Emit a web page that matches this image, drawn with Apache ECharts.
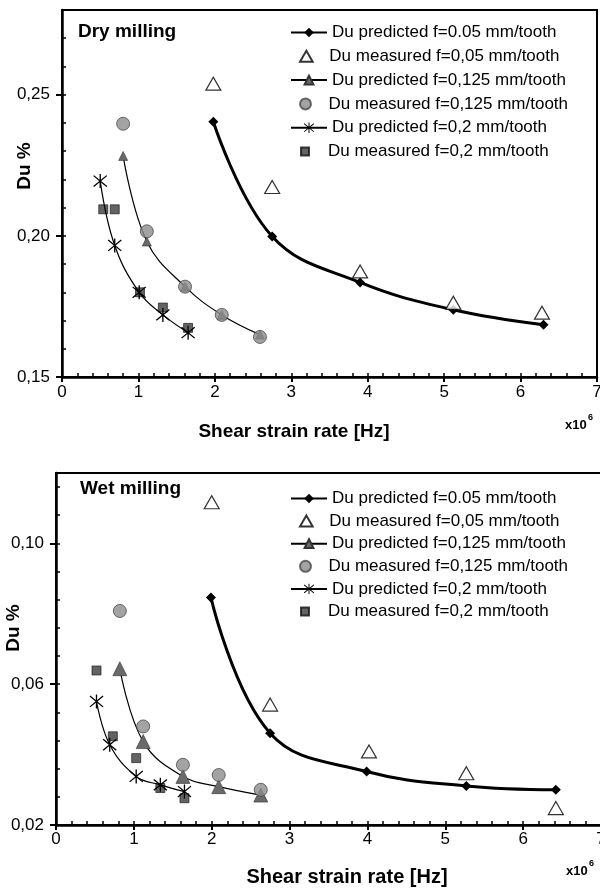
<!DOCTYPE html>
<html><head><meta charset="utf-8">
<script src="https://cdn.jsdelivr.net/npm/echarts@6/dist/echarts.min.js"></script>
<style>html,body{margin:0;padding:0;background:#fff}#c{width:600px;height:889px}</style>
</head><body><div id="c"></div>
<script>
// ---------- labels ----------
const legendLabelsDry = ['Du predicted f=0.05 mm/tooth','Du measured f=0,05 mm/tooth','Du predicted f=0,125 mm/tooth','Du measured f=0,125 mm/tooth','Du predicted f=0,2 mm/tooth','Du measured f=0,2 mm/tooth'];
const legendLabelsWet = ['Du predicted f=0.05 mm/tooth','Du measured f=0,05 mm/tooth','Du predicted f=0,125 mm/tooth','Du measured f=0,125 mm/tooth','Du predicted f=0,2 mm/tooth','Du measured f=0,2 mm/tooth'];
const panelTitles = ['Dry milling','Wet milling'];
const xAxisTitle = 'Shear strain rate [Hz]';
const yAxisTitle = 'Du %';

// ---------- ticks ----------
const xTickLabels = [0,1,2,3,4,5,6,7];
const dryYTickLabels = [0.15,0.20,0.25];
const wetYTickLabels = [0.02,0.06,0.10];

// ---------- Dry milling data (x in 10^6 Hz) ----------
const dryPred005X = [1.98,2.75,3.90,5.12,6.30];
const dryPred005Y = [0.2404,0.1998,0.1835,0.1738,0.1685];
const dryMeas005X = [1.98,2.75,3.90,5.12,6.28];
const dryMeas005Y = [0.2539,0.2173,0.1874,0.1763,0.1728];
const dryPred0125X = [0.80,1.11,1.61,2.09,2.59];
const dryPred0125Y = [0.2283,0.1980,0.1820,0.1720,0.1650];
const dryMeas0125X = [0.80,1.11,1.61,2.09,2.59];
const dryMeas0125Y = [0.2397,0.2016,0.1820,0.1720,0.1642];
const dryPred02X = [0.50,0.69,1.01,1.32,1.65];
const dryPred02Y = [0.2194,0.1966,0.1800,0.1720,0.1657];
const dryMeas02X = [0.54,0.69,1.02,1.32,1.65];
const dryMeas02Y = [0.2094,0.2094,0.1800,0.1746,0.1674];

// ---------- Wet milling data ----------
const wetPred005X = [1.99,2.75,3.99,5.27,6.42];
const wetPred005Y = [0.0846,0.0461,0.0352,0.0311,0.0300];
const wetMeas005X = [2.00,2.75,4.02,5.27,6.42];
const wetMeas005Y = [0.1117,0.0542,0.0409,0.0347,0.0248];
const wetPred0125X = [0.82,1.12,1.63,2.09,2.63];
const wetPred0125Y = [0.0644,0.0437,0.0338,0.0309,0.0285];
const wetMeas0125X = [0.82,1.12,1.63,2.09,2.63];
const wetMeas0125Y = [0.0808,0.0480,0.0371,0.0342,0.0300];
const wetPred02X = [0.52,0.69,1.03,1.34,1.65];
const wetPred02Y = [0.0551,0.0428,0.0338,0.0314,0.0295];
const wetMeas02X = [0.52,0.73,1.03,1.34,1.65];
const wetMeas02Y = [0.0639,0.0452,0.0390,0.0305,0.0276];

// ---------- helpers ----------
const FONT = 'Liberation Sans, Arial, Helvetica, sans-serif';
const zip = (xs, ys) => xs.map((x, i) => [x, ys[i]]);
function steps(a, b, n) { const out = []; for (let i = 0; i <= n; i++) out.push(+(a + (b - a) * i / n).toFixed(6)); return out; }
const xMinorTicks = steps(0, 7, 35);
const dryYMinorTicks = steps(0.15, 0.28, 13);
const wetYMinorTicks = steps(0.02, 0.116, 12);
const commaFmt = v => v.toFixed(2).replace('.', ',');

const ASTER = 'path://M2.527,2.398 L1.473,3.602 L17.473,17.602 L18.527,16.398 Z M1.473,16.398 L2.527,17.602 L18.527,3.602 L17.473,2.398 Z M9.2,1 L9.2,19 L10.8,19 L10.8,1 Z';
const TRI = 'path://M6,0 L12,10.4 L0,10.4 Z';
const SQR = 'path://M0,0 L10,0 L10,10 L0,10 Z';

const grids = [
  { left: 62, top: 10, width: 535, height: 367, show: true, borderColor: '#000', borderWidth: 2, backgroundColor: 'transparent', outerBoundsMode: 'none', containLabel: false },
  { left: 56, top: 473, width: 545, height: 352, show: true, borderColor: '#000', borderWidth: 2, backgroundColor: 'transparent', outerBoundsMode: 'none', containLabel: false }
];

function xAxes(gi, labelMargin) {
  return [
    { gridIndex: gi, type: 'value', min: 0, max: 7, position: 'bottom',
      axisLine: { lineStyle: { color: '#000', width: 2.5 } },
      axisTick: { customValues: xMinorTicks, inside: true, length: 4, lineStyle: { color: '#000', width: 1.5 } },
      axisLabel: { customValues: xTickLabels, color: '#000', fontSize: 17, fontFamily: FONT, margin: labelMargin, hideOverlap: false },
      splitLine: { show: false } },
    { gridIndex: gi, type: 'value', min: 0, max: 7, position: 'bottom',
      axisLine: { show: false },
      axisTick: { customValues: xTickLabels, inside: false, length: 5, lineStyle: { color: '#000', width: 2 } },
      axisLabel: { show: false }, splitLine: { show: false } }
  ];
}
function yAxes(gi, min, max, minor, labels) {
  return [
    { gridIndex: gi, type: 'value', min: min, max: max, position: 'left',
      axisLine: { lineStyle: { color: '#000', width: 2.5 } },
      axisTick: { customValues: minor, inside: true, length: 4, lineStyle: { color: '#000', width: 1.5 } },
      axisLabel: { customValues: labels, formatter: commaFmt, color: '#000', fontSize: 17, fontFamily: FONT, margin: 12 },
      splitLine: { show: false } },
    { gridIndex: gi, type: 'value', min: min, max: max, position: 'left',
      axisLine: { show: false },
      axisTick: { customValues: labels, inside: false, length: 6, lineStyle: { color: '#000', width: 2 } },
      axisLabel: { show: false }, splitLine: { show: false } }
  ];
}

function makeSeries(prefix, gi, d, big) {
  const xi = gi * 2, yi = gi * 2;
  return [
    { name: prefix + '0', type: 'line', xAxisIndex: xi, yAxisIndex: yi, data: d[0], smooth: 0.4,
      symbol: 'diamond', symbolSize: 10, lineStyle: { color: '#000', width: 3 }, itemStyle: { color: '#000' }, z: 3 },
    { name: prefix + '1', type: 'scatter', xAxisIndex: xi, yAxisIndex: yi, data: d[1],
      symbol: 'triangle', symbolSize: [15, 13], itemStyle: { color: '#fff', borderColor: '#000', borderWidth: 1.2 }, z: 4 },
    { name: prefix + '2', type: 'line', xAxisIndex: xi, yAxisIndex: yi, data: d[2], smooth: 0.4,
      symbol: 'triangle', symbolSize: big ? 14 : 9, lineStyle: { color: '#000', width: 1.2 }, itemStyle: { color: '#6a6a6a', borderColor: '#333', borderWidth: 0.6 }, z: 3 },
    { name: prefix + '3', type: 'scatter', xAxisIndex: xi, yAxisIndex: yi, data: d[3],
      symbol: 'circle', symbolSize: 13, itemStyle: { color: '#8c8c8c', borderColor: '#4a4a4a', borderWidth: 1 }, z: 4 },
    { name: prefix + '4', type: 'line', xAxisIndex: xi, yAxisIndex: yi, data: d[4], smooth: 0.4,
      symbol: ASTER, symbolSize: 14, lineStyle: { color: '#000', width: 1.2 }, itemStyle: { color: '#000' }, z: 5 },
    { name: prefix + '5', type: 'scatter', xAxisIndex: xi, yAxisIndex: yi, data: d[5],
      symbol: 'rect', symbolSize: 9, itemStyle: { color: '#3c3c3c', borderColor: '#111', borderWidth: 0.8 }, z: 4 }
  ];
}

function makeLegends(prefix, labels, top0, step) {
  const cfg = [
    { iw: 36, ih: 12, left: 290 },
    { iw: 36, ih: 11, left: 299, icon: TRI },
    { iw: 36, ih: 11, left: 290 },
    { iw: 36, ih: 11, left: 299, icon: 'circle' },
    { iw: 36, ih: 13, left: 290 },
    { iw: 36, ih: 8, left: 300, icon: SQR }
  ];
  return cfg.map((c, i) => ({
    show: true, selectedMode: false, orient: 'vertical', left: c.left, top: top0 + step * i, padding: 0,
    itemWidth: c.iw, itemHeight: c.ih,
    data: [c.icon ? { name: prefix + i, icon: c.icon } : { name: prefix + i }],
    formatter: () => labels[i],
    textStyle: { color: '#000', fontSize: 17, fontFamily: FONT, padding: [0, 0, 0, 0] }
  }));
}

const dryData = [zip(dryPred005X, dryPred005Y), zip(dryMeas005X, dryMeas005Y), zip(dryPred0125X, dryPred0125Y), zip(dryMeas0125X, dryMeas0125Y), zip(dryPred02X, dryPred02Y), zip(dryMeas02X, dryMeas02Y)];
const wetData = [zip(wetPred005X, wetPred005Y), zip(wetMeas005X, wetMeas005Y), zip(wetPred0125X, wetPred0125Y), zip(wetMeas0125X, wetMeas0125Y), zip(wetPred02X, wetPred02Y), zip(wetMeas02X, wetMeas02Y)];

const titleFont = 'bold 19px ' + FONT;
const chart = echarts.init(document.getElementById('c'), null, { renderer: 'canvas' });
chart.setOption({
  animation: false,
  backgroundColor: '#fff',
  grid: grids,
  xAxis: [...xAxes(0, 7), ...xAxes(1, 6)],
  yAxis: [...yAxes(0, 0.15, 0.28, dryYMinorTicks, dryYTickLabels), ...yAxes(1, 0.02, 0.12, wetYMinorTicks, wetYTickLabels)],
  legend: [...makeLegends('dry', legendLabelsDry, 24, 23.8), ...makeLegends('wet', legendLabelsWet, 490, 22.6)],
  series: [...makeSeries('dry', 0, dryData, false), ...makeSeries('wet', 1, wetData, true)],
  graphic: [
    { type: 'text', left: 78, top: 22, style: { text: panelTitles[0], font: titleFont, fill: '#000' } },
    { type: 'text', left: 80, top: 479, style: { text: panelTitles[1], font: titleFont, fill: '#000' } },
    { type: 'text', x: 25, y: 166, rotation: Math.PI / 2, style: { text: yAxisTitle, font: titleFont, fill: '#000', align: 'center', verticalAlign: 'middle' } },
    { type: 'text', x: 14, y: 628, rotation: Math.PI / 2, style: { text: yAxisTitle, font: titleFont, fill: '#000', align: 'center', verticalAlign: 'middle' } },
    { type: 'text', x: 294, y: 432, style: { text: xAxisTitle, font: titleFont, fill: '#000', align: 'center', verticalAlign: 'middle' } },
    { type: 'text', x: 347, y: 877, style: { text: xAxisTitle, font: 'bold 20px ' + FONT, fill: '#000', align: 'center', verticalAlign: 'middle' } },
    { type: 'text', x: 565, y: 425, style: { text: 'x10', font: 'bold 13px ' + FONT, fill: '#000', verticalAlign: 'middle' } },
    { type: 'text', x: 588, y: 418, style: { text: '6', font: 'bold 9px ' + FONT, fill: '#000', verticalAlign: 'middle' } },
    { type: 'text', x: 566, y: 871, style: { text: 'x10', font: 'bold 13px ' + FONT, fill: '#000', verticalAlign: 'middle' } },
    { type: 'text', x: 589, y: 864, style: { text: '6', font: 'bold 9px ' + FONT, fill: '#000', verticalAlign: 'middle' } }
  ]
});
</script></body></html>
